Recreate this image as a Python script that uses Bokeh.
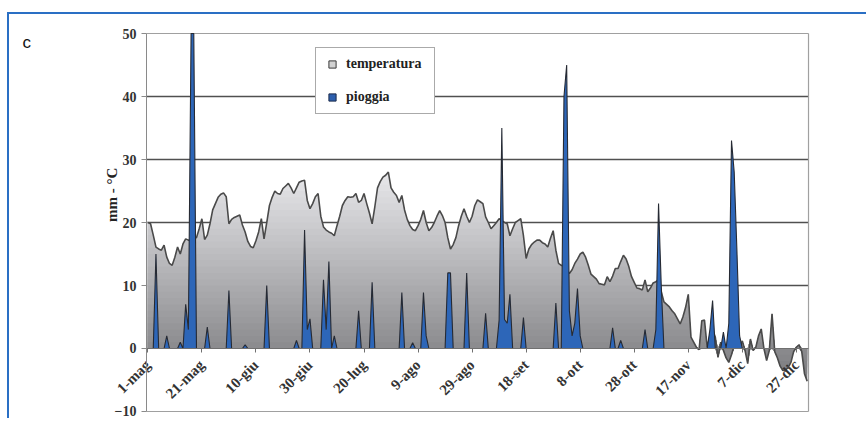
from math import pi

import numpy as np
from bokeh.embed import file_html
from bokeh.models import FixedTicker, Label, Legend, LegendItem, Range1d
from bokeh.plotting import figure
from bokeh.resources import INLINE

# Daily series, 1 May (day 0) to 31 December (day 244)
temperatura = [
    20, 19.8, 18, 16.1, 15.8, 15.6, 16.4, 14.5, 13.5, 13.2,
    14.5, 16.1, 15, 16.6, 17.4, 17.2, 17.1, 17.4, 17.6, 19,
    20.6, 17.3, 18, 19.8, 22, 23, 24, 24.5, 24.7, 24.1,
    19.8, 20.5, 20.8, 21, 21.2, 19.6, 18.5, 17, 16.2, 16,
    17.1, 18.5, 20.6, 17.4, 20, 22.7, 24, 25, 24.6, 24.5,
    25.4, 25.8, 26.2, 25.5, 24.6, 25.5, 26.4, 26.6, 26.7, 23.5,
    22.2, 23, 24.1, 24.6, 21, 19.3, 18.8, 18.5, 18.3, 17.9,
    19.5, 21, 22.7, 23.5, 24.1, 24, 24.1, 24.6, 23.2, 23.5,
    24.6, 23, 21.5, 19.8, 22.5, 25.5, 26.5, 27.2, 27.5, 28,
    25.5, 24.8, 24.3, 23.2, 24.3, 22, 20.5, 19.5, 18.9, 18.7,
    19.5, 20.5, 21.9, 20, 18.7, 19.2, 20, 21, 21.9, 21.1,
    20, 17.6, 15.8, 16.5, 17.6, 19.5, 21, 22.2, 21, 20,
    21, 22.7, 23.6, 23.3, 23, 20.9, 20, 19, 19.5, 20,
    20.6, 20.3, 20, 19.8, 17.9, 19, 20, 20.3, 20.6, 17.9,
    14.3, 15.8, 16.5, 16.9, 17.2, 17.2, 16.8, 16.6, 16.1, 17.5,
    18.7, 15.6, 13.5, 13.2, 13, 12.5, 11.9, 12.5, 13.5, 14.2,
    15, 15.3, 14.5, 13.2, 11.8, 11.4, 11, 10.3, 10.2, 10.1,
    11.4, 10.6, 11.5, 12.7, 12.7, 13.8, 14.8, 14.2, 13, 11.4,
    10.5, 9.6, 9.5, 9.3, 10.9, 9, 9.6, 10.4, 10.6, 10.9,
    9, 7.4, 7, 6.6, 6, 5.5, 4.7, 3.9, 5, 6.5,
    8.6, 1.8, 1, 0.2, -0.2, 4.4, 4.5, 0.2, 2, 3,
    1.8, -1.4, 1, -0.3, -1.5, -2.2, -1, 0.5, 1, 0.2,
    1.2, -0.3, -2.4, 1.5, -0.3, 0.2, 2, 3.1, 0, -1.9,
    -0.3, 5.5, -0.5, -1.5, -2.8, -3.5, -3.4, -3, -2.2, -0.5,
    0.2, 0.6, -0.5, -4, -5.2,
]

# Rainy days (day index) and rainfall in mm; all other days are dry
pioggia_giorni = [3, 7, 12, 14, 15, 16, 17, 22, 30, 36, 44, 55, 58, 59, 60,
                  65, 66, 67, 69, 78, 83, 94, 98, 102, 103, 111, 112, 118,
                  125, 130, 131, 132, 133, 134, 139, 151, 154, 155, 156, 157,
                  158, 159, 160, 172, 175, 184, 188, 189, 190, 208, 209, 213,
                  215, 216, 217, 218, 219]
pioggia_mm = [15, 2, 1, 7, 3, 60, 55, 3.4, 9.2, 0.6, 10, 1.3, 18.8, 3, 4.7,
              10.9, 3, 13.8, 2, 6, 10.5, 8.9, 0.9, 8.9, 2, 12, 12, 12,
              5.6, 4.5, 35, 4.6, 4, 8.6, 4.9, 7.2, 40, 45, 6, 2,
              4, 9.5, 2, 3.3, 1.3, 3, 3, 23, 10, 3, 7.6, 2.6,
              4, 33, 28, 15.6, 2]

tick_giorni = [0, 20, 40, 60, 80, 100, 120, 140, 160, 180, 200, 220, 240]
tick_etichette = ["1-mag", "21-mag", "10-giu", "30-giu", "20-lug", "9-ago",
                  "29-ago", "18-set", "8-ott", "28-ott", "17-nov", "7-dic",
                  "27-dic"]
y_grid = [10, 20, 30, 40]
y_ticks = [-10, 0, 10, 20, 30, 40, 50]

t = np.array(temperatura, dtype=float)
days = np.arange(len(t))
rain = np.zeros(len(t))
rain[pioggia_giorni] = pioggia_mm

SERIF = "Liberation Serif"
BLUE = "#2a6fc4"
X0, X1 = -0.5, 244.5      # extent of the plotted period
Y0, Y1 = -10, 50          # extent of the value axis

# The frame fills the whole canvas; axes are pinned inside it
p = figure(
    width=859, height=406,
    x_range=Range1d(-51.2, 266.7), y_range=Range1d(-11.43, 53.02),
    output_backend="svg", toolbar_location=None,
    min_border=0, min_border_left=0, min_border_right=0,
    min_border_top=0, min_border_bottom=0,
    background_fill_color="white", border_fill_color="white",
)
p.margin = (12, 0, 0, 7)
p.styles = {"border-top": f"2px solid {BLUE}", "border-left": f"2px solid {BLUE}"}
p.outline_line_color = None
p.xgrid.visible = False
p.ygrid.visible = False

# Horizontal grid lines behind the series, and the plot-area border
p.segment(x0=X0, y0=y_grid, x1=X1, y1=y_grid, line_color="#505050",
          line_width=1.3, level="underlay")
p.segment(x0=[X0, X0, X1], y0=[Y0, Y1, Y0], x1=[X1, X1, X1], y1=[Y0, Y1, Y1],
          line_color="#a0a0a0", line_width=1.2, level="underlay")


def gray(h):
    g = int(round(232 - (28 - h) * (232 - 122) / 33))
    g = max(min(g, 236), 112)
    return "#%02x%02x%02x" % (g, g, min(g + 3, 255))


# Temperature area with a vertical light-to-dark shading
for b in range(29, 0, -1):
    p.varea(x=days, y1=0, y2=np.clip(t, 0, b), fill_color=gray(b - 0.5))
for a in range(-6, 0):
    p.varea(x=days, y1=np.clip(t, a, 0), y2=0, fill_color=gray(a + 0.5))
p.line(days, t, line_color="#4a4a4a", line_width=1.6)

# Rain area on top, cut at the top of the value axis
rain_drawn = np.minimum(rain, Y1)
p.varea(x=days, y1=0, y2=rain_drawn, fill_color="#2d66b8")
p.line(days, rain_drawn, line_color="#262a33", line_width=1.1)

# Legend swatches
r_t = p.scatter(x=[-200], y=[-200], marker="square", size=7,
                fill_color="#d2d2d2", line_color="#3a3a3a", line_width=1)
r_p = p.scatter(x=[-200], y=[-200], marker="square", size=7,
                fill_color="#2d5fae", line_color="#1c2c4c", line_width=1)
legend = Legend(
    items=[LegendItem(label="temperatura", renderers=[r_t]),
           LegendItem(label="pioggia", renderers=[r_p])],
    location=(306, 306),
    border_line_color="#555555", border_line_width=1,
    background_fill_color="white", background_fill_alpha=1,
    label_text_font=SERIF, label_text_font_style="bold",
    label_text_font_size="14px", label_text_color="#222222",
    padding=7, spacing=15, glyph_width=18, glyph_height=18,
    label_standoff=5, label_width=81, label_height=18, margin=0,
)
p.add_layout(legend)

# Y axis
p.yaxis.fixed_location = X0
p.yaxis.bounds = (Y0, Y1)
p.yaxis.ticker = FixedTicker(ticks=y_ticks)
p.yaxis.axis_line_color = "#8a8a8a"
p.yaxis.major_tick_line_color = "#8a8a8a"
p.yaxis.major_tick_out = 5
p.yaxis.major_tick_in = 0
p.yaxis.minor_tick_line_color = None
p.yaxis.major_label_standoff = 5
p.yaxis.major_label_text_font = SERIF
p.yaxis.major_label_text_font_style = "bold"
p.yaxis.major_label_text_font_size = "14px"
p.yaxis.major_label_text_color = "#333333"

# X axis sits on the zero line
p.xaxis.fixed_location = 0
p.xaxis.bounds = (X0, X1)
p.xaxis.ticker = FixedTicker(ticks=tick_giorni)
p.xaxis.major_label_overrides = {d: s for d, s in zip(tick_giorni, tick_etichette)}
p.xaxis.major_label_orientation = pi / 4
p.xaxis.axis_line_color = "#707070"
p.xaxis.axis_line_width = 1.2
p.xaxis.major_tick_line_color = "#707070"
p.xaxis.major_tick_out = 4
p.xaxis.major_tick_in = 0
p.xaxis.minor_tick_line_color = None
p.xaxis.major_label_standoff = 10
p.xaxis.major_label_text_font = SERIF
p.xaxis.major_label_text_font_style = "bold"
p.xaxis.major_label_text_font_size = "15px"
p.xaxis.major_label_text_color = "#333333"

p.add_layout(Label(x=-13.1, y=24.4, text="mm - °C", angle=pi / 2,
                   text_align="center", text_baseline="middle",
                   text_font=SERIF, text_font_style="bold",
                   text_font_size="15px", text_color="#222222"))
p.add_layout(Label(x=-46.4, y=48.6, text="c", text_align="left",
                   text_baseline="alphabetic", text_font="Liberation Sans",
                   text_font_size="17px", text_color="#111111"))

open("out.html", "w").write(file_html(p, INLINE))
